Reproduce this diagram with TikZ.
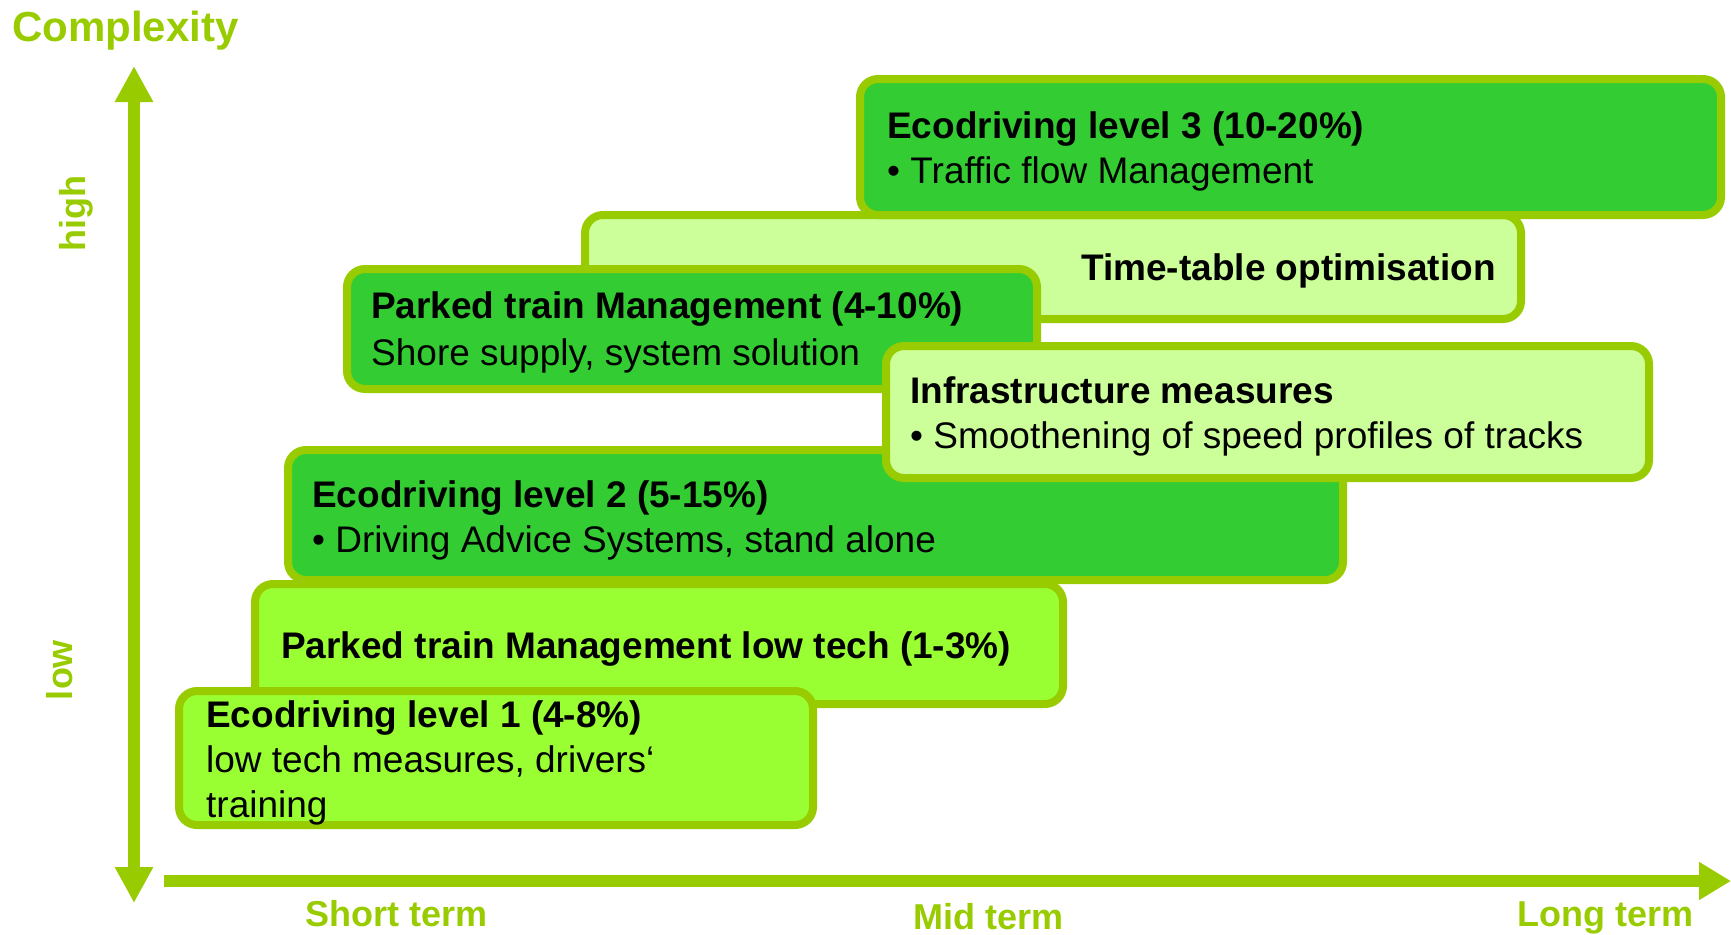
\documentclass[tikz,border=0pt]{standalone}
\usepackage{fontspec}
\setmainfont{Liberation Sans}
\usetikzlibrary{arrows.meta,positioning}
\definecolor{axisgreen}{HTML}{99CC00}
\definecolor{darkfill}{HTML}{33CC33}
\definecolor{palefill}{HTML}{CCFF99}
\definecolor{limefill}{HTML}{99FF33}

\begin{document}
\begin{tikzpicture}[x=1pt, y=-1pt,
    box/.style={draw=axisgreen, line width=8pt, rounded corners=18pt, outer sep=0pt, anchor=north west},
    title/.style={anchor=base west, inner sep=0pt, font=\fontsize{37}{45}\selectfont\bfseries},
    line/.style={anchor=base west, inner sep=0pt, font=\fontsize{37}{45}\selectfont},
    axis/.style={axisgreen, line width=12pt},
    axlabel/.style={text=axisgreen, inner sep=0pt, font=\fontsize{36}{43}\selectfont\bfseries}]
\useasboundingbox (0,0) rectangle (1731,934);

% axes
\coordinate (ytop) at (134,66);
\coordinate (ybot) at (134,903);
\coordinate (xleft) at (164,881);
\coordinate (xright) at (1731,881);
\draw[axis, {Triangle[length=36pt,width=36pt]}-{Triangle[length=36pt,width=36pt]}] (ytop) -- (ybot);
\draw[axis, -{Triangle[length=32pt,width=36pt]}] (xleft) -- (xright);

\node[axlabel, anchor=base west, font=\fontsize{42}{50}\selectfont\bfseries] (complexity) at (12,42) {Complexity};
\node[axlabel, anchor=base, rotate=90] (high) at (85,214) {high};
\node[axlabel, anchor=base, rotate=90] (low) at (72,670) {low};
\node[axlabel, anchor=base west] (short) at (305,926) {Short term};
\node[axlabel, anchor=base west] (mid) at (913,929) {Mid term};
\node[axlabel, anchor=base west] (long) at (1517,926) {Long term};

% measures, back to front
\node[box, fill=palefill, minimum width=936pt, minimum height=104pt] (timetable) at (585,215) {};
\node[title, anchor=base east] (timetablea) at (1496,280) {Time-table optimisation};

\node[box, fill=darkfill, minimum width=861pt, minimum height=136pt] (eco3) at (860,79) {};
\node[title] (eco3a) at (887,138) {Ecodriving level 3 (10-20\%)};
\node[line] (eco3b) at (887,183) {• Traffic flow Management};

\node[box, fill=darkfill, minimum width=690pt, minimum height=120pt] (parked) at (347,269) {};
\node[title] (parkeda) at (371,318) {Parked train Management (4-10\%)};
\node[line] (parkedb) at (371,365) {Shore supply, system solution};

\node[box, fill=darkfill, minimum width=1055pt, minimum height=130pt] (eco2) at (288,450) {};
\node[title] (eco2a) at (312,507) {Ecodriving level 2 (5-15\%)};
\node[line] (eco2b) at (312,552) {• Driving Advice Systems, stand alone};

\node[box, fill=palefill, minimum width=763pt, minimum height=132pt] (infra) at (886,346) {};
\node[title] (infraa) at (910,403) {Infrastructure measures};
\node[line] (infrab) at (910,448) {• Smoothening of speed profiles of tracks};

\node[box, fill=limefill, minimum width=808pt, minimum height=120pt] (lowtech) at (255,584) {};
\node[title] (lowtecha) at (281,658) {Parked train Management low tech (1-3\%)};

\node[box, fill=limefill, minimum width=634pt, minimum height=134pt] (eco1) at (179,691) {};
\node[title] (eco1a) at (206,727) {Ecodriving level 1 (4-8\%)};
\node[line] (eco1b) at (206,772) {low tech measures, drivers‘};
\node[line] (eco1c) at (206,817) {training};
\end{tikzpicture}
\end{document}
